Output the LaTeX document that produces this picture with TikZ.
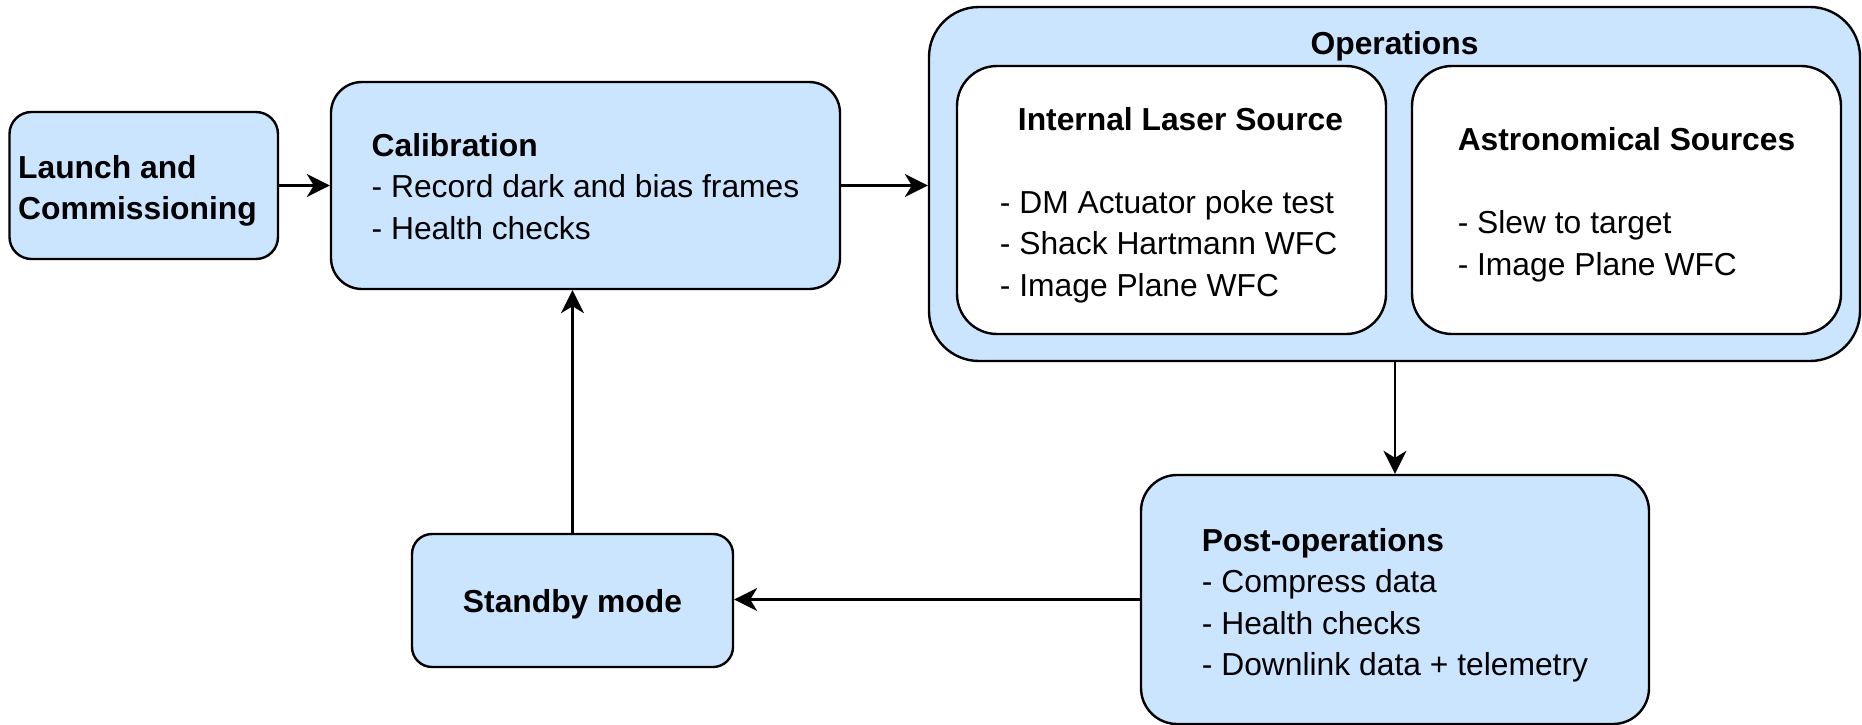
\documentclass[tikz,border=0pt]{standalone}
\usepackage{fontspec}
\setmainfont{Liberation Sans}
\usetikzlibrary{arrows.meta}
\definecolor{boxblue}{RGB}{204,229,255}
\begin{document}
\begin{tikzpicture}[x=1pt,y=-1pt,
  box/.style={draw=black, line width=2.4pt, fill=boxblue, rounded corners=#1, inner sep=0pt},
  box/.default=30pt,
  inbox/.style={box=#1, fill=white},
  inbox/.default=40pt,
  txt/.style={inner sep=0pt, align=left, font=\fontsize{31.8}{41.5}\selectfont},
  arr/.style={line width=2.4pt, -{Stealth[length=23pt,width=23pt,inset=7pt]}}]
\useasboundingbox (0,0) rectangle (1862,725);
% boxes
\node[box=22pt, minimum width=268.5pt, minimum height=147pt] (launch) at (143.75,185.5) {};
\node[txt, anchor=west] (launchtxt) at (18,191) {\textbf{Launch and}\\\textbf{Commissioning}};
\node[box=31pt, minimum width=509pt, minimum height=207pt] (calib) at (585.5,185.5) {};
\node[txt] (calibtxt) at ([yshift=-1pt]calib.center)
  {\textbf{Calibration}\\- Record dark and bias frames\\- Health checks};
\node[box=50pt, minimum width=931pt, minimum height=354pt] (ops) at (1394.5,184) {};
\node[txt, anchor=base] (opstitle) at (1394.5,54.5) {\textbf{Operations}};
\node[inbox=40pt, minimum width=429pt, minimum height=268pt] (laser) at (1171.5,200) {};
\node[txt] (lasertxt) at ([yshift=-5pt]laser.center)
  {\hspace*{18pt}\textbf{Internal Laser Source}\\[41.5pt]- DM Actuator poke test\\- Shack Hartmann WFC\\- Image Plane WFC};
\node[inbox=40pt, minimum width=429pt, minimum height=268pt] (astro) at (1626.5,200) {};
\node[txt] (astrotxt) at ([yshift=-5pt]astro.center)
  {\textbf{Astronomical Sources}\\[41.5pt]- Slew to target\\- Image Plane WFC};
\node[box=36pt, minimum width=508pt, minimum height=249pt] (post) at (1395,599.5) {};
\node[txt] (posttxt) at ([yshift=-6pt]post.center)
  {\textbf{Post-operations}\\- Compress data\\- Health checks\\- Downlink data + telemetry};
\node[box=20pt, minimum width=321pt, minimum height=133pt] (standby) at (572.5,600.5) {};
\node[txt] (standbytxt) at ([yshift=-4pt]standby.center) {\textbf{Standby mode}};
% connectors
\draw[arr] (launch.east) -- (calib.west);
\draw[arr] (calib.east) -- (ops.west |- calib.east);
\draw[arr] (ops.south -| post.north) -- (post.north);
\draw[arr] (post.west) -- (standby.east |- post.west);
\draw[arr] (standby.north) -- (standby.north |- calib.south);
\end{tikzpicture}
\end{document}
